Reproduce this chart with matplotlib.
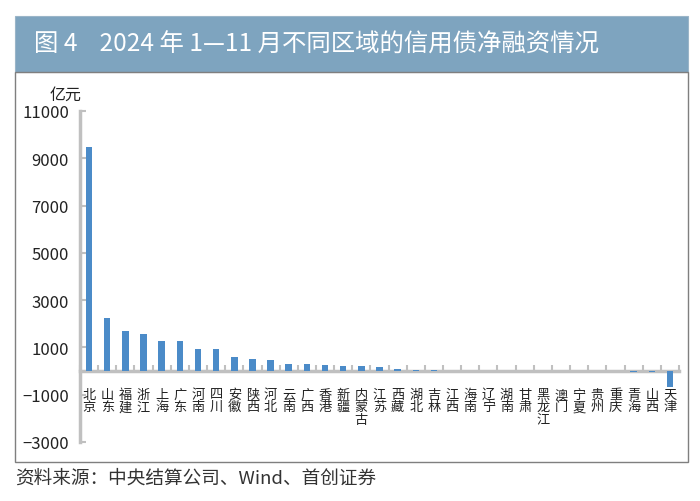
import matplotlib
matplotlib.use("Agg")
import matplotlib.pyplot as plt
from matplotlib.patches import Rectangle

plt.rcParams['font.family'] = ['Noto Sans CJK SC', 'DejaVu Sans']

regions = ['北京', '山东', '福建', '浙江', '上海', '广东', '河南', '四川', '安徽', '陕西',
           '河北', '云南', '广西', '香港', '新疆', '内蒙古', '江苏', '西藏', '湖北', '吉林',
           '江西', '海南', '辽宁', '湖南', '甘肃', '黑龙江', '澳门', '宁夏', '贵州', '重庆',
           '青海', '山西', '天津']
values = [9480, 2240, 1700, 1550, 1280, 1270, 930, 920, 600, 520,
          460, 300, 290, 260, 220, 200, 170, 80, 30, 30,
          20, 10, 0, 0, 0, 0, 0, 0, 0, 0,
          -60, -30, -680]
yticks = [-3000, -1000, 1000, 3000, 5000, 7000, 9000, 11000]

W, H = 700, 502
fig = plt.figure(figsize=(W / 100, H / 100), dpi=100)

def fx(px):
    return px / W

def fy(py):
    return 1 - py / H

# title bar
fig.patches.append(Rectangle((fx(15), fy(73)), fx(688) - fx(15), fy(17) - fy(73),
                             transform=fig.transFigure, facecolor='#7ea4bf',
                             edgecolor='#9ab5c8', lw=0.8, zorder=0))
fig.text(fx(34), fy(45), '图 4    2024 年 1—11 月不同区域的信用债净融资情况',
         color='white', fontsize=17.6, va='center', ha='left')
# frame box
fig.patches.append(Rectangle((fx(15), fy(463)), fx(688) - fx(15), fy(73) - fy(463),
                             transform=fig.transFigure, facecolor='none',
                             edgecolor='#7f7f7f', lw=1.0, zorder=0))
fig.text(fx(15), fy(479), '资料来源：中央结算公司、Wind、首创证券',
         color='#333333', fontsize=13.4, va='center', ha='left')

ax = fig.add_axes([fx(80), fy(443), fx(679) - fx(80), fy(112) - fy(443)])
x = list(range(len(regions)))
ax.bar(x, values, width=0.36, color='#4b8bc8', zorder=3)

ax.set_xlim(-0.5, len(regions) - 0.5)
ax.set_ylim(-3000, 11000)
ax.set_yticks(yticks)
ax.set_yticklabels([f'{v}'.replace('-', '−') for v in yticks], fontsize=12, color='#222222')

for s in ['top', 'right']:
    ax.spines[s].set_visible(False)
ax.spines['left'].set_color('#c0c0c0')
ax.spines['left'].set_linewidth(2.5)
ax.spines['bottom'].set_position(('data', 0))
ax.spines['bottom'].set_color('#c0c0c0')
ax.spines['bottom'].set_linewidth(2.5)
ax.spines['bottom'].set_zorder(2)

ax.tick_params(axis='y', direction='in', length=4, width=1.5, color='#c0c0c0', pad=8)
ax.set_xticks(x)
ax.set_xticklabels(['\n'.join(r) for r in regions], fontsize=9.5, color='#222222',
                   linespacing=0.95, va='top')
ax.tick_params(axis='x', which='major', length=0, pad=12)
ax.set_xticks([i - 0.5 for i in range(len(regions) + 1)], minor=True)
ax.tick_params(axis='x', which='minor', direction='in', length=4, width=1.5, color='#c0c0c0')

fig.text(fx(66), fy(95), '亿元', fontsize=11.5, ha='center', va='center', color='#222222')

fig.savefig('out.png', dpi=100)
